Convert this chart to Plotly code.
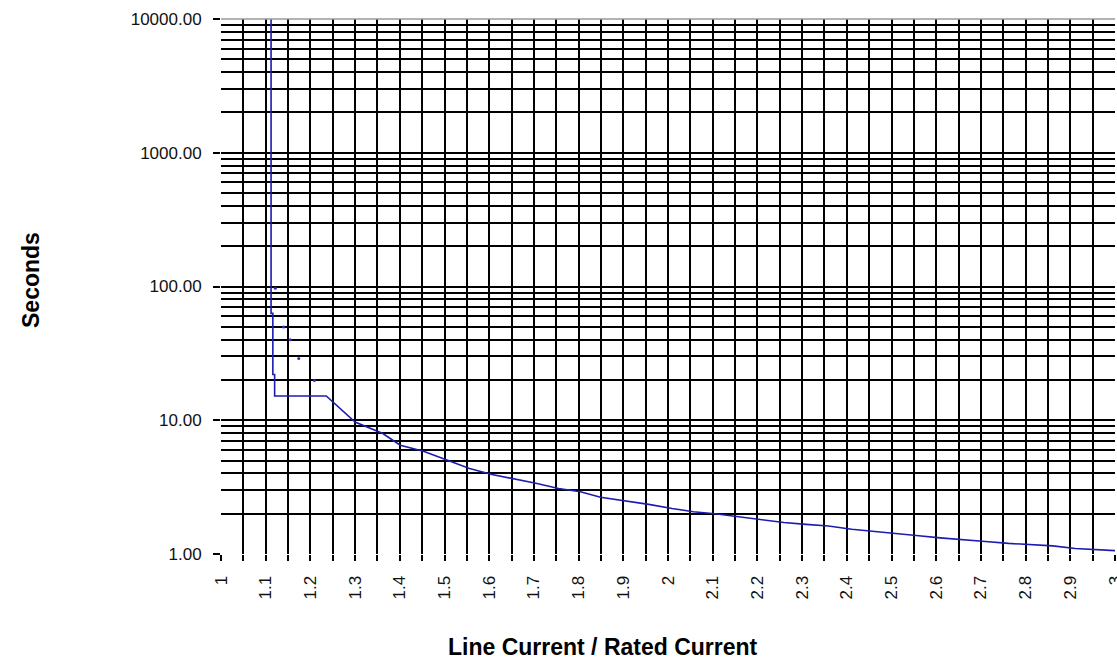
import plotly.graph_objects as go

# Main trip curve (Line Current / Rated Current vs Seconds)
curve_x = [1.112, 1.112, 1.116, 1.116, 1.120, 1.120, 1.2355, 1.300, 1.362, 1.401, 1.453, 1.506,
           1.556, 1.606, 1.655, 1.707, 1.755, 1.804, 1.849, 1.904, 1.957, 2.009, 2.057, 2.110,
           2.158, 2.209, 2.259, 2.309, 2.359, 2.411, 2.460, 2.511, 2.561, 2.609, 2.661, 2.710,
           2.762, 2.812, 2.861, 2.911, 2.961, 3.0]
curve_y = [10000, 63, 63, 22, 22, 15.2, 15.2, 9.7, 7.95, 6.5, 5.87, 5.03,
           4.36, 3.93, 3.67, 3.37, 3.09, 2.92, 2.66, 2.50, 2.35, 2.19, 2.07, 1.99,
           1.90, 1.82, 1.72, 1.665, 1.62, 1.53, 1.47, 1.42, 1.37, 1.32, 1.27, 1.24,
           1.20, 1.18, 1.15, 1.10, 1.08, 1.06]

# Sparse stray points
dots_x = [1.1215, 1.140, 1.155, 1.174, 1.209]
dots_y = [97, 49.7, 40, 29, 19.8]

x_tickvals = [1.0, 1.1, 1.2, 1.3, 1.4, 1.5, 1.6, 1.7, 1.8, 1.9, 2.0,
              2.1, 2.2, 2.3, 2.4, 2.5, 2.6, 2.7, 2.8, 2.9, 3.0]
x_ticktext = ["1", "1.1", "1.2", "1.3", "1.4", "1.5", "1.6", "1.7", "1.8", "1.9", "2",
              "2.1", "2.2", "2.3", "2.4", "2.5", "2.6", "2.7", "2.8", "2.9", "3"]
y_tickvals = [1, 10, 100, 1000, 10000]
y_ticktext = ["1.00", "10.00", "100.00", "1000.00", "10000.00"]

x_minor = [round(1.0 + 0.05 * i, 2) for i in range(41)]
y_minor = [m * d for d in (1, 10, 100, 1000) for m in range(2, 10)]

FONT = "Liberation Sans, Arial, sans-serif"
GRID_W = 1.5

fig = go.Figure()
fig.add_trace(go.Scatter(x=curve_x, y=curve_y, mode="lines",
                         line=dict(color="#1c1cb0", width=1.6), showlegend=False,
                         hoverinfo="x+y"))
fig.add_trace(go.Scatter(x=dots_x, y=dots_y, mode="markers",
                         marker=dict(color="#2a2ae0", size=3), showlegend=False))

L, T, PW, PH = 221, 19, 894, 535

fig.update_layout(
    width=1117, height=660,
    margin=dict(l=L, r=1117 - L - PW, t=T, b=660 - T - PH, autoexpand=False),
    paper_bgcolor="white", plot_bgcolor="white",
    font=dict(family=FONT, size=17, color="#111111"),
    xaxis=dict(
        range=[1, 3], tickvals=x_tickvals, ticktext=x_ticktext, tickangle=-90,
        showgrid=True, gridcolor="#000000", gridwidth=GRID_W,
        ticks="outside", ticklen=6, tickcolor="#000000", tickwidth=GRID_W,
        ticklabelstandoff=8, ticklabeloverflow="allow",
        minor=dict(tickvals=x_minor, showgrid=True, gridcolor="#000000", gridwidth=GRID_W,
                   ticks="outside", ticklen=6, tickcolor="#000000", tickwidth=GRID_W),
        zeroline=False, showline=False,
        tickfont=dict(size=17, family=FONT),
    ),
    yaxis=dict(
        type="log", range=[0, 4], tickvals=y_tickvals, ticktext=y_ticktext,
        showgrid=True, gridcolor="#000000", gridwidth=GRID_W,
        ticks="outside", ticklen=7, tickcolor="#000000", tickwidth=GRID_W,
        ticklabelstandoff=8, ticklabeloverflow="allow",
        minor=dict(tickvals=y_minor, showgrid=True, gridcolor="#000000", gridwidth=GRID_W),
        zeroline=False, showline=False,
        tickfont=dict(size=17, family=FONT),
    ),
    annotations=[
        dict(text="<b>Seconds</b>", textangle=-90, xref="paper", yref="paper",
             x=(31 - L) / PW, y=(T + PH - 280) / PH, xanchor="center", yanchor="middle",
             showarrow=False, font=dict(size=23, family=FONT, color="#000000")),
        dict(text="<b>Line Current / Rated Current</b>", xref="paper", yref="paper",
             x=(446 - L) / PW, y=(T + PH - 647) / PH, xanchor="left", yanchor="middle",
             showarrow=False, font=dict(size=23, family=FONT, color="#000000")),
    ],
    shapes=[dict(type="line", xref="paper", yref="paper", x0=0, x1=1, y0=1, y1=1,
                 line=dict(color="#999999", width=1.3))],
)

fig.write_html("out.html", config={"displayModeBar": False},
               post_script="document.body.style.margin='0px';document.body.style.overflow='hidden';")
